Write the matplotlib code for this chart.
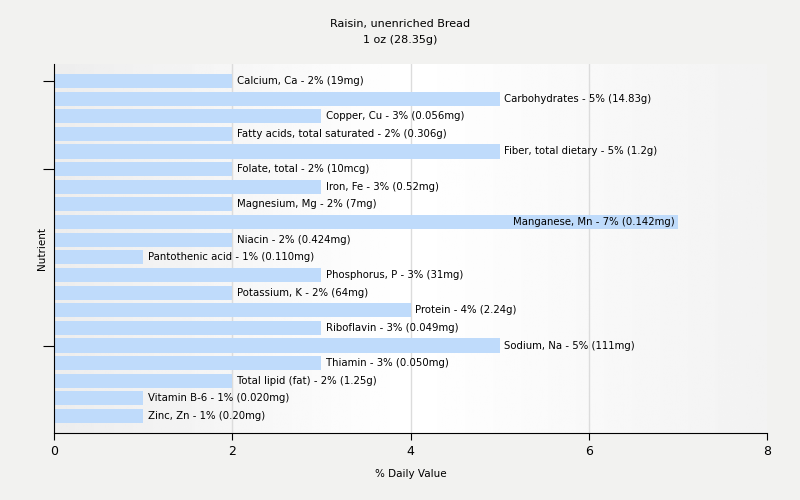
import numpy as np
import matplotlib.pyplot as plt

# nutrient data
nutrients = ['Calcium, Ca', 'Carbohydrates', 'Copper, Cu', 'Fatty acids, total saturated',
             'Fiber, total dietary', 'Folate, total', 'Iron, Fe', 'Magnesium, Mg',
             'Manganese, Mn', 'Niacin', 'Pantothenic acid', 'Phosphorus, P',
             'Potassium, K', 'Protein', 'Riboflavin', 'Sodium, Na', 'Thiamin',
             'Total lipid (fat)', 'Vitamin B-6', 'Zinc, Zn']
dv = [2, 5, 3, 2, 5, 2, 3, 2, 7, 2, 1, 3, 2, 4, 3, 5, 3, 2, 1, 1]
amounts = ['19mg', '14.83g', '0.056mg', '0.306g', '1.2g', '10mcg', '0.52mg', '7mg',
           '0.142mg', '0.424mg', '0.110mg', '31mg', '64mg', '2.24g', '0.049mg',
           '111mg', '0.050mg', '1.25g', '0.020mg', '0.20mg']
xticks = [0, 2, 4, 6, 8]

bg = '#f2f2f0'
fig = plt.figure(figsize=(8, 5), dpi=100, facecolor=bg)
ax = fig.add_axes([0.0675, 0.134, 0.89125, 0.738])
ax.set_facecolor(bg)

# background gradient: grey at the sides, white in the middle
grad = np.concatenate([np.linspace(0.93, 1.0, 128), np.linspace(1.0, 0.95, 128)])
ax.imshow(np.tile(grad, (2, 1)), extent=[0, 8, 19.96, -0.96], cmap='gray',
          vmin=0, vmax=1, aspect='auto', zorder=0)

for x in [2, 4, 6]:
    ax.axvline(x, color='#dcdcdc', lw=1, zorder=1)

y = np.arange(len(nutrients))
ax.barh(y, dv, height=0.8, color='#bfdbfb', zorder=2)

for i in range(len(nutrients)):
    txt = '%s - %d%% (%s)' % (nutrients[i], dv[i], amounts[i])
    if dv[i] >= 7:
        ax.text(dv[i] - 0.03, y[i], txt, ha='right', va='center', fontsize=7.3, zorder=3)
    else:
        ax.text(dv[i] + 0.05, y[i], txt, ha='left', va='center', fontsize=7.3, zorder=3)

ax.set_xlim(0, 8)
ax.set_ylim(19.96, -0.96)
ax.set_xticks(xticks)
ax.tick_params(axis='x', labelsize=9, length=5)
ax.set_yticks([0, 5, 15])
ax.set_yticklabels([])
ax.tick_params(axis='y', length=8)
for s in ['top', 'right']:
    ax.spines[s].set_visible(False)

ax.set_xlabel('% Daily Value', fontsize=7.5, labelpad=8)
ax.set_ylabel('Nutrient', fontsize=7.5)
ax.yaxis.set_label_coords(-0.01, 0.5)
fig.text(0.5, 0.953, 'Raisin, unenriched Bread', ha='center', va='center', fontsize=8)
fig.text(0.5, 0.92, '1 oz (28.35g)', ha='center', va='center', fontsize=8)

plt.savefig('out.png', dpi=100, facecolor=bg)
